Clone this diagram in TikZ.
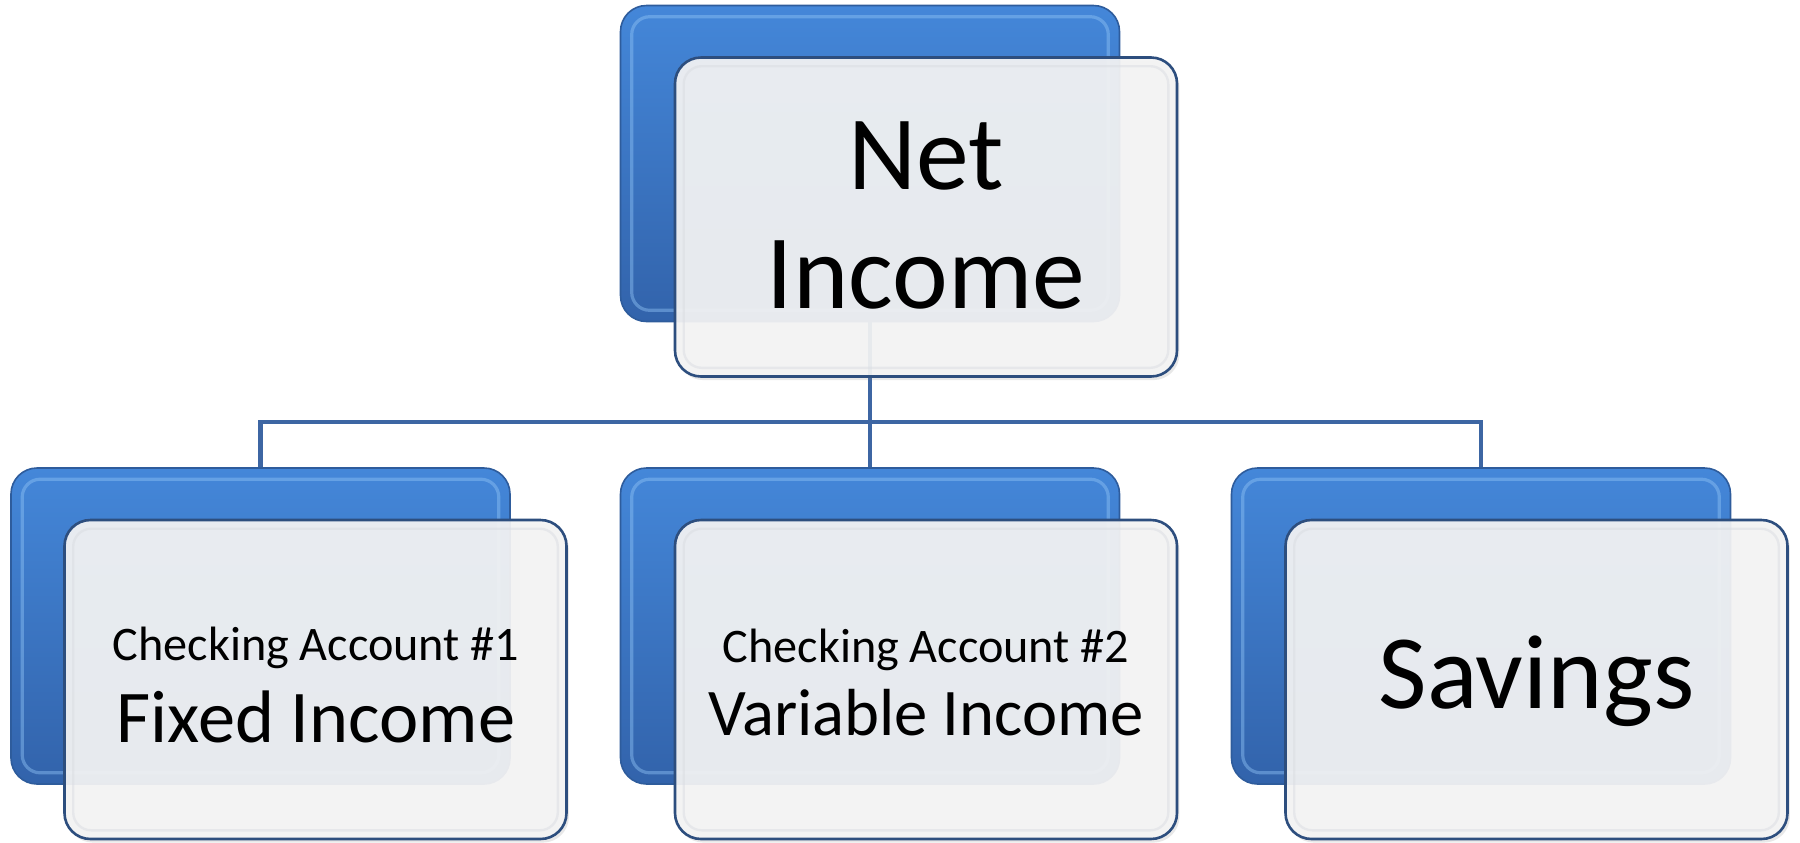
\documentclass[tikz,border=0pt]{standalone}
\usepackage{fontspec}
\setmainfont{Carlito}
\usetikzlibrary{shadows}
\definecolor{bluetop}{HTML}{4487D9}
\definecolor{bluebot}{HTML}{3263AB}
\definecolor{blueedge}{HTML}{2E5C9C}
\definecolor{bluehi}{HTML}{8FC3F5}
\definecolor{frontfill}{HTML}{F4F4F4}
\definecolor{frontedge}{HTML}{2D4E7E}
\definecolor{frontin}{HTML}{DADDE2}
\definecolor{connc}{HTML}{3D66A3}
\tikzset{
  backbox/.style={rectangle, rounded corners=13pt, minimum width=249.5pt, minimum height=158pt,
    inner sep=0pt, draw=blueedge, line width=0.8pt, top color=bluetop, bottom color=bluebot},
  fronthost/.style={rectangle, rounded corners=13pt, minimum width=251pt, minimum height=159.5pt,
    inner sep=0pt, draw=frontedge, line width=1.3pt, fill=frontfill, fill opacity=0.93,
    drop shadow={opacity=0.18, shadow xshift=1.2pt, shadow yshift=-1.8pt}},
  backhi/.style={draw=bluehi, draw opacity=0.45, line width=1.6pt, rounded corners=9pt},
  fronthi/.style={draw=frontin, draw opacity=0.5, line width=1.2pt, rounded corners=9pt},
  conn/.style={draw=connc, line width=2.4pt},
  bigtxt/.style={anchor=base, inner sep=0pt, font=\fontsize{52.8}{63}\selectfont},
  smalltxt/.style={anchor=base, inner sep=0pt, font=\fontsize{24.1}{29}\selectfont},
}
\begin{document}
\begin{tikzpicture}[x=0.5pt,y=-0.5pt]
\useasboundingbox[fill=white] (0,0) rectangle (1800,842);

% blue back boxes
\node[backbox] (tb) at (870,163.5) {};
\node[backbox] (lb) at (260.5,626) {};
\node[backbox] (mb) at (870,626) {};
\node[backbox] (rb) at (1481,626) {};
\foreach \n in {tb,lb,mb,rb}{
  \draw[backhi] ([xshift=6pt,yshift=-6pt]\n.north west) rectangle ([xshift=-6pt,yshift=6pt]\n.south east);
}

% connectors
\coordinate (bar) at (870,422);
\draw[conn] (tb.south) -- (mb.north);
\draw[conn] (lb.north) -- (lb.north |- bar) -- (rb.north |- bar) -- (rb.north);

% front boxes
\node[fronthost] (tf) at (926,217) {};
\node[fronthost] (lf) at (315.5,679.5) {};
\node[fronthost] (mf) at (926,679.5) {};
\node[fronthost] (rf) at (1536.5,679.5) {};
\foreach \n in {tf,lf,mf,rf}{
  \draw[fronthi] ([xshift=5pt,yshift=-5pt]\n.north west) rectangle ([xshift=-5pt,yshift=5pt]\n.south east);
}

% texts
\node[bigtxt] (t1) at (926,189) {Net};
\node[bigtxt] (t2) at (926,308) {Income};
\node[smalltxt] (t3) at (316,660) {Checking Account \#1};
\node[anchor=base, inner sep=0pt, font=\fontsize{37.2}{44}\selectfont] (t4) at (316,742) {Fixed Income};
\node[smalltxt] (t5) at (926,662) {Checking Account \#2};
\node[anchor=base, inner sep=0pt, font=\fontsize{33.3}{40}\selectfont] (t6) at (926,735) {Variable Income};
\node[bigtxt] (t7) at (1536.5,708) {Savings};
\end{tikzpicture}
\end{document}
